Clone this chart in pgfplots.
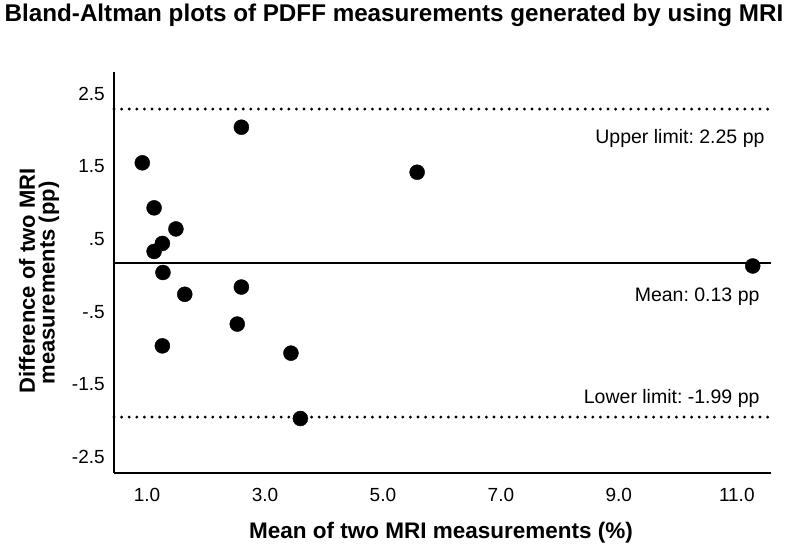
\documentclass[border=0pt]{standalone}
\usepackage{fontspec}
\setmainfont{Liberation Sans}
\usepackage{pgfplots}
\pgfplotsset{compat=1.18}
\frenchspacing
\begin{document}
\begin{tikzpicture}[x=1pt,y=1pt]
\path[use as bounding box] (0,0) rectangle (800,555);
\begin{axis}[
  at={(114pt,82pt)}, anchor=south west,
  width=657pt, height=401pt, scale only axis,
  xmin=0.44, xmax=11.58, ymin=-2.76, ymax=2.76,
  axis lines=left,
  axis line style={line width=2.6pt, -},
  tick style={draw=none},
  xtick={1,3,5,7,9,11},
  xticklabels={1.0,3.0,5.0,7.0,9.0,11.0},
  ytick={2.5,1.5,0.5,-0.5,-1.5,-2.5},
  yticklabels={2.5,1.5,.5,-.5,-1.5,-2.5},
  xticklabel style={font=\fontsize{19}{22}\selectfont, inner sep=0pt, yshift=-13pt},
  yticklabel style={font=\fontsize{19}{22}\selectfont, inner sep=0pt, xshift=-7pt, yshift=-3pt},
  clip=false,
]
\addplot[line width=2.6pt, black] coordinates {(0.44,0.13) (11.58,0.13)};
\addplot[line width=3.2pt, black, line cap=round, dash pattern=on 0pt off 7.6pt] coordinates {(0.44,2.25) (11.58,2.25)};
\addplot[line width=3.2pt, black, line cap=round, dash pattern=on 0pt off 7.6pt] coordinates {(0.44,-1.99) (11.58,-1.99)};
\addplot[only marks, mark=*, mark size=7.5pt, black] table {
x y
0.92 1.51
2.60 2.00
1.12 0.89
1.49 0.60
1.26 0.40
1.12 0.29
1.27 0.00
1.64 -0.30
2.60 -0.20
2.53 -0.71
1.26 -1.01
3.44 -1.11
3.60 -2.01
5.58 1.38
11.27 0.09
};
\end{axis}
\node[font=\bfseries\fontsize{24.2}{28}\selectfont] at (394,540) {Bland-Altman plots of PDFF measurements generated by using MRI};
\node[font=\bfseries\fontsize{22.5}{26}\selectfont] at (441,22) {Mean of two MRI measurements (\%)};
\node[font=\bfseries\fontsize{22}{26}\selectfont, rotate=90] at (27,274) {Difference of two MRI};
\node[font=\bfseries\fontsize{22}{26}\selectfont, rotate=90] at (49,272) {measurements (pp)};
\node[font=\fontsize{19.5}{23}\selectfont, anchor=east] at (768,417) {Upper limit: 2.25 pp};
\node[font=\fontsize{19.5}{23}\selectfont, anchor=east] at (763,258) {Mean: 0.13 pp};
\node[font=\fontsize{19.5}{23}\selectfont, anchor=east] at (763,157) {Lower limit: -1.99 pp};
\end{tikzpicture}
\end{document}
